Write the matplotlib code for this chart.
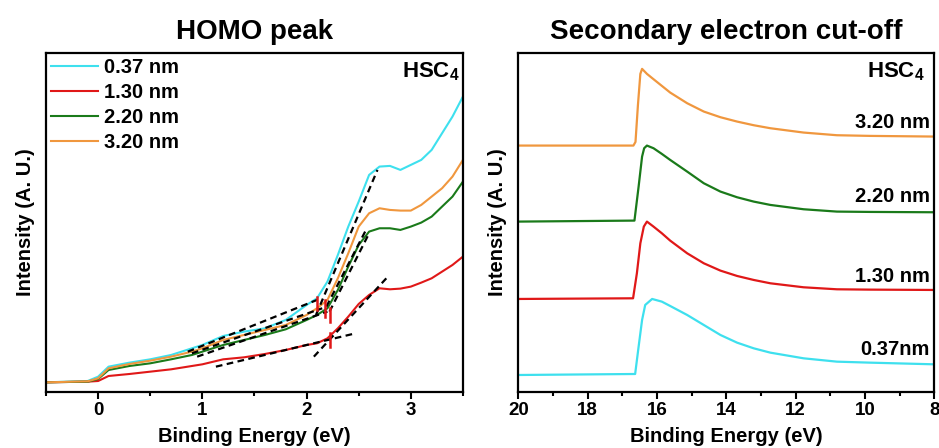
import numpy as np
import matplotlib
matplotlib.use("Agg")
import matplotlib.pyplot as plt

plt.rcParams["font.family"] = ["Liberation Sans", "DejaVu Sans"]
plt.rcParams["font.weight"] = "bold"
plt.rcParams["mathtext.fontset"] = "custom"
plt.rcParams["mathtext.rm"] = "Liberation Sans:bold"
plt.rcParams["mathtext.bf"] = "Liberation Sans:bold"

# ---------- data (intensity in arbitrary units) ----------
labels = ["0.37 nm", "1.30 nm", "2.20 nm", "3.20 nm"]
colors = ["#3ee0ee", "#e01818", "#1a7a1a", "#f0973e"]

# HOMO region
homo_x = [-0.5, -0.1, 0.0, 0.1, 0.3, 0.5, 0.7, 0.9, 1.0, 1.2, 1.4, 1.6, 1.8, 2.0,
          2.1, 2.2, 2.3, 2.4, 2.5, 2.6, 2.7, 2.8, 2.9, 3.0, 3.1, 3.2, 3.3, 3.4, 3.5]
homo_037 = [2.9, 3.3, 4.6, 7.6, 8.8, 9.8, 11.1, 13.1, 14.1, 16.8, 18.1, 19.1, 21.6, 26.1,
            28.1, 33.1, 41.1, 49.6, 57.1, 65.1, 67.6, 67.8, 66.6, 68.1, 69.6, 72.6, 77.6, 82.6, 88.6]
homo_130 = [2.9, 3.1, 3.3, 4.8, 5.4, 6.1, 6.8, 7.8, 8.3, 9.8, 10.4, 11.4, 12.6, 14.1,
            14.6, 16.1, 19.1, 22.6, 26.4, 29.1, 31.1, 30.8, 31.0, 31.6, 32.8, 34.1, 36.1, 38.1, 40.6]
homo_220 = [2.9, 3.1, 3.9, 6.6, 7.8, 8.6, 9.8, 11.1, 12.1, 14.1, 15.6, 17.1, 18.8, 21.6,
            23.1, 25.1, 30.6, 37.6, 44.1, 48.1, 49.1, 49.1, 48.6, 49.6, 50.8, 52.6, 55.6, 58.6, 63.1]
homo_320 = [2.9, 3.2, 4.1, 7.1, 8.4, 9.4, 10.6, 12.1, 13.1, 15.6, 17.1, 18.6, 20.1, 23.1,
            25.1, 27.6, 34.1, 41.6, 49.6, 53.6, 55.1, 54.6, 54.4, 54.4, 56.1, 58.6, 61.1, 64.6, 69.6]

# tangent lines used for onset fits: (x0, y0, x1, y1)
fit_lines = [
    (0.86, 12.1, 2.14, 28.1), (2.09, 23.1, 2.68, 66.6),   # 0.37 nm
    (1.13, 7.6, 2.47, 17.6), (2.07, 10.6, 2.78, 34.6),    # 1.30 nm
    (0.95, 10.6, 2.20, 24.1), (2.22, 24.1, 2.60, 47.6),   # 2.20 nm
    (0.90, 11.6, 2.15, 25.1), (2.19, 25.6, 2.57, 48.6),   # 3.20 nm
]
# onset markers: (x, y_top, y_bottom)
onset_marks = [(2.10, 28.6, 24.6), (2.18, 27.6, 22.6), (2.22, 25.1, 21.1), (2.22, 17.6, 13.6)]

# secondary electron cut-off region
sec_x_037 = [20, 16.63, 16.53, 16.43, 16.34, 16.14, 15.86, 15.62, 15.13, 14.65, 14.17,
             13.69, 13.21, 12.73, 11.77, 10.81, 9.85, 8]
sec_037 = [5.1, 5.4, 13.6, 21.6, 26.1, 27.9, 27.1, 25.8, 23.1, 20.1, 17.1,
           14.8, 13.1, 11.8, 10.1, 9.1, 8.8, 8.3]
sec_x_130 = [20, 16.69, 16.58, 16.48, 16.38, 16.29, 16.10, 15.86, 15.62, 15.13, 14.65, 14.17,
             13.69, 13.21, 12.73, 11.77, 10.81, 9.85, 8]
sec_130 = [27.9, 28.1, 35.6, 44.6, 49.6, 51.1, 49.6, 47.6, 45.4, 41.6, 38.6, 36.4,
           34.8, 33.6, 32.6, 31.4, 30.8, 30.7, 30.6]
sec_x_220 = [20, 16.65, 16.53, 16.43, 16.37, 16.29, 16.10, 15.86, 15.62, 15.13, 14.65, 14.17,
             13.69, 13.21, 12.73, 11.77, 10.81, 9.85, 8]
sec_220 = [51.1, 51.4, 61.6, 70.6, 73.1, 73.9, 73.1, 71.4, 69.6, 66.1, 62.6, 60.1,
           58.4, 57.1, 56.1, 54.8, 54.1, 54.0, 53.9]
sec_x_320 = [20, 16.68, 16.62, 16.55, 16.48, 16.43, 16.29, 16.10, 15.86, 15.62, 15.13, 14.65,
             14.17, 13.69, 13.21, 12.73, 11.77, 10.81, 9.85, 8]
sec_320 = [73.9, 73.9, 75.0, 86.0, 95.4, 96.9, 95.4, 93.8, 91.8, 89.8, 86.6, 84.1,
           82.4, 81.1, 80.0, 79.1, 77.8, 77.0, 76.8, 76.6]
sec_label_y = [12.6, 34.6, 58.6, 80.8]
sec_labels = ["0.37nm", "1.30 nm", "2.20 nm", "3.20 nm"]

# ---------- figure ----------
fig = plt.figure(figsize=(9.39, 4.48), dpi=100)
ax1 = fig.add_axes([0.049, 0.125, 0.444, 0.757])
ax2 = fig.add_axes([0.552, 0.125, 0.443, 0.757])


def style_axes(ax):
    for s in ax.spines.values():
        s.set_linewidth(1.6)
    ax.tick_params(axis="x", which="major", direction="out", length=5, width=1.5,
                   labelsize=13.5, pad=2)
    ax.tick_params(axis="x", which="minor", direction="out", length=3, width=1.5)
    ax.set_yticks([])
    ax.set_xlabel("Binding Energy (eV)", fontsize=14.5, fontweight="bold", labelpad=6)
    ax.set_ylabel("Intensity (A. U.)", fontsize=14.5, fontweight="bold", labelpad=8)


# left: HOMO peak
for y, c, lab in zip([homo_037, homo_130, homo_220, homo_320], colors, labels):
    ax1.plot(homo_x, y, color=c, lw=1.5, label=lab)
for x0, y0, x1, y1 in fit_lines:
    ax1.plot([x0, x1], [y0, y1], color="black", lw=1.6, ls=(0, (3, 2)))
for x, yt, yb in onset_marks:
    ax1.plot([x, x], [yt, yb], color="#e01818", lw=1.8)
ax1.set_xlim(-0.5, 3.5)
ax1.set_ylim(0, 101.7)
ax1.set_xticks([0, 1, 2, 3])
ax1.set_xticks(np.arange(-0.5, 3.6, 0.5), minor=True)
style_axes(ax1)
ax1.set_title("HOMO peak", fontsize=20, fontweight="bold", pad=10)
ax1.legend(loc="upper left", frameon=False, handlelength=2.35,
           handletextpad=0.3, labelspacing=0.3, borderaxespad=0.25, borderpad=0.0,
           prop={"weight": "bold", "size": 14.5})
ax1.text(0.993, 0.944, r"HSC$_\mathbf{4}$", transform=ax1.transAxes, ha="right",
         va="center", fontsize=16, fontweight="bold")

# right: secondary electron cut-off
sec_xs = [sec_x_037, sec_x_130, sec_x_220, sec_x_320]
sec_ys = [sec_037, sec_130, sec_220, sec_320]
for x, y, c in zip(sec_xs, sec_ys, colors):
    ax2.plot(x, y, color=c, lw=1.6)
for ly, lab in zip(sec_label_y, sec_labels):
    ax2.text(8.13, ly, lab, ha="right", va="center", fontsize=14.5, fontweight="bold")
ax2.set_xlim(20, 8)
ax2.set_ylim(0, 101.7)
ax2.set_xticks(np.arange(20, 7, -2))
ax2.set_xticks(np.arange(20, 7, -1), minor=True)
style_axes(ax2)
ax2.set_title("Secondary electron cut-off", fontsize=20, fontweight="bold", pad=10)
ax2.text(0.978, 0.944, r"HSC$_\mathbf{4}$", transform=ax2.transAxes, ha="right",
         va="center", fontsize=16, fontweight="bold")

fig.savefig("out.png", dpi=100)
